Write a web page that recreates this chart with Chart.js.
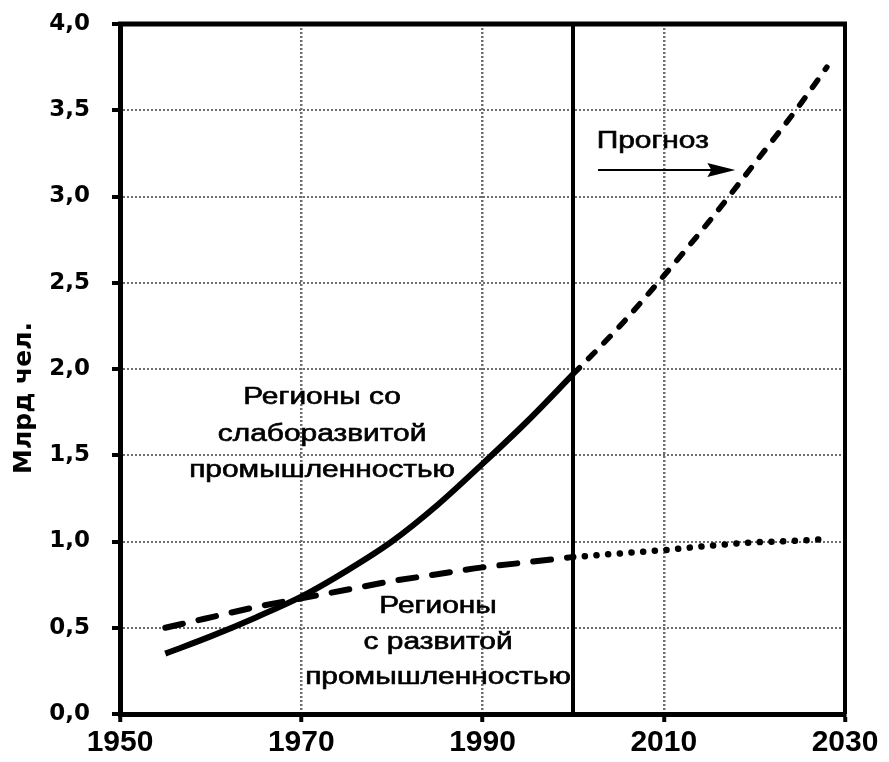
<!DOCTYPE html>
<html lang="ru">
<head>
    <meta charset="UTF-8">
    <title>Население регионов, млрд чел.</title>
    <script src="https://cdn.jsdelivr.net/npm/chart.js"></script>
    <style>
        html, body {
            margin: 0;
            padding: 0;
            background-color: #FFFFFF;
        }
        #myChart {
            display: block;
        }
    </style>
</head>
<body>
    <canvas id="myChart" width="889" height="762"></canvas>

    <script>
        // Данные (млрд чел.)
        var histYears = [1955, 1960, 1965, 1970, 1975, 1980, 1985, 1990, 1995, 2000];
        var developingHist = [0.35, 0.45, 0.56, 0.68, 0.83, 1.00, 1.21, 1.45, 1.70, 1.97];
        var developedHist = [0.50, 0.56, 0.62, 0.67, 0.72, 0.77, 0.81, 0.85, 0.88, 0.91];

        var forecastYears = [2000, 2005, 2010, 2015, 2020, 2025, 2028];
        var developingForecast = [1.97, 2.24, 2.54, 2.855, 3.19, 3.53, 3.75];
        var developedForecast = [0.91, 0.93, 0.95, 0.975, 0.995, 1.005, 1.015];

        var xTicks = [1950, 1970, 1990, 2010, 2030];
        var yTicks = [0, 0.5, 1, 1.5, 2, 2.5, 3, 3.5, 4];

        var labelDeveloping = ['Регионы со', 'слаборазвитой', 'промышленностью'];
        var labelDeveloped = ['Регионы', 'с развитой', 'промышленностью'];
        var forecastStart = 2000;

        function toPoints(xs, ys) {
            return xs.map(function(x, i) { return { x: x, y: ys[i] }; });
        }

        // текст, растянутый по горизонтали, как в оригинале
        function wideText(ctx, text, x, y, align) {
            ctx.save();
            ctx.translate(x, y);
            ctx.scale(1.3, 1);
            ctx.textAlign = align;
            ctx.textBaseline = 'middle';
            ctx.lineWidth = 0.6;
            ctx.fillText(text, 0, 0);
            ctx.strokeText(text, 0, 0);
            ctx.restore();
        }

        var decorations = {
            id: 'decorations',
            beforeDatasetsDraw: function(chart) {
                var ctx = chart.ctx;
                var area = chart.chartArea;
                var x = Math.round(chart.scales.x.getPixelForValue(forecastStart));
                ctx.save();
                ctx.strokeStyle = '#000';
                ctx.lineWidth = 4;
                ctx.beginPath();
                ctx.moveTo(x, area.top);
                ctx.lineTo(x, area.bottom);
                ctx.stroke();
                ctx.restore();
            },
            afterDraw: function(chart) {
                var ctx = chart.ctx;
                var area = chart.chartArea;
                var xs = chart.scales.x;
                var ys = chart.scales.y;

                ctx.save();
                ctx.strokeStyle = '#000';
                // верхняя и правая рамка
                ctx.lineWidth = 5;
                ctx.beginPath();
                ctx.moveTo(area.left - 2, area.top);
                ctx.lineTo(area.right + 2, area.top);
                ctx.stroke();
                ctx.lineWidth = 4;
                ctx.beginPath();
                ctx.moveTo(area.right, area.top);
                ctx.lineTo(area.right, area.bottom);
                ctx.stroke();

                ctx.fillStyle = '#000';
                ctx.font = '23px "Liberation Sans"';

                var cx = xs.getPixelForValue(1972.3);
                var cy = ys.getPixelForValue(1.832);
                labelDeveloping.forEach(function(line, i) {
                    wideText(ctx, line, cx, cy + i * 36.5, 'center');
                });

                cx = xs.getPixelForValue(1985.1);
                cy = ys.getPixelForValue(0.62);
                labelDeveloped.forEach(function(line, i) {
                    wideText(ctx, line, cx, cy + i * 35.5, 'center');
                });

                wideText(ctx, 'Прогноз', xs.getPixelForValue(2002.6), ys.getPixelForValue(3.32), 'left');

                // стрелка прогноза
                var ax1 = xs.getPixelForValue(2002.75);
                var ax2 = xs.getPixelForValue(2017.9);
                var ay = ys.getPixelForValue(3.154);
                ctx.lineWidth = 2;
                ctx.beginPath();
                ctx.moveTo(ax1, ay);
                ctx.lineTo(ax2 - 20, ay);
                ctx.stroke();
                ctx.beginPath();
                ctx.moveTo(ax2, ay);
                ctx.lineTo(ax2 - 28, ay - 7);
                ctx.lineTo(ax2 - 24, ay);
                ctx.lineTo(ax2 - 28, ay + 7);
                ctx.closePath();
                ctx.fill();

                // подпись оси Y
                ctx.font = 'bold 25px "DejaVu Sans"';
                ctx.translate(24, 398);
                ctx.rotate(-Math.PI / 2);
                ctx.textAlign = 'center';
                ctx.textBaseline = 'middle';
                ctx.fillText('Млрд чел.', 0, 0);
                ctx.restore();
            }
        };

        var gridColor = '#6e6e6e';

        var myChart = new Chart(document.getElementById('myChart').getContext('2d'), {
            type: 'line',
            data: {
                datasets: [
                    {
                        label: 'Регионы со слаборазвитой промышленностью',
                        data: toPoints(histYears, developingHist),
                        borderColor: '#000',
                        borderWidth: 6,
                        cubicInterpolationMode: 'monotone',
                        pointRadius: 0
                    },
                    {
                        label: 'Регионы со слаборазвитой промышленностью (прогноз)',
                        data: toPoints(forecastYears, developingForecast),
                        borderColor: '#000',
                        borderWidth: 5.5,
                        borderDash: [9, 13],
                        borderCapStyle: 'round',
                        cubicInterpolationMode: 'monotone',
                        pointRadius: 0
                    },
                    {
                        label: 'Регионы с развитой промышленностью',
                        data: toPoints(histYears, developedHist),
                        borderColor: '#000',
                        borderWidth: 6,
                        borderDash: [18, 16],
                        borderCapStyle: 'round',
                        cubicInterpolationMode: 'monotone',
                        pointRadius: 0
                    },
                    {
                        label: 'Регионы с развитой промышленностью (прогноз)',
                        data: toPoints(forecastYears, developedForecast),
                        borderColor: '#000',
                        borderWidth: 6.5,
                        borderDash: [0.1, 11.6],
                        borderCapStyle: 'round',
                        cubicInterpolationMode: 'monotone',
                        pointRadius: 0
                    }
                ]
            },
            options: {
                responsive: false,
                animation: false,
                layout: {
                    padding: { top: 24, right: 44, bottom: 0, left: 0 }
                },
                plugins: {
                    legend: { display: false },
                    tooltip: { enabled: false }
                },
                scales: {
                    x: {
                        type: 'linear',
                        min: 1950,
                        max: 2030,
                        afterBuildTicks: function(scale) {
                            scale.ticks = xTicks.map(function(v) { return { value: v }; });
                        },
                        afterFit: function(scale) {
                            scale.height = 48;
                        },
                        ticks: {
                            color: '#000',
                            padding: 3,
                            maxRotation: 0,
                            font: { family: '"Liberation Sans"', size: 30, weight: 'bold' },
                            callback: function(value) { return String(value); }
                        },
                        grid: {
                            color: gridColor,
                            lineWidth: 2.5,
                            tickColor: '#000',
                            tickLength: 8,
                            tickWidth: 4,
                            tickBorderDash: []
                        },
                        border: {
                            color: '#000',
                            width: 5,
                            dash: [2, 2]
                        }
                    },
                    y: {
                        min: 0,
                        max: 4,
                        afterBuildTicks: function(scale) {
                            scale.ticks = yTicks.map(function(v) { return { value: v }; });
                        },
                        afterFit: function(scale) {
                            scale.width = 120;
                            scale.paddingTop = 0;
                            scale.paddingBottom = 0;
                        },
                        ticks: {
                            color: '#000',
                            padding: 22,
                            font: { family: '"DejaVu Sans"', size: 23, weight: 'bold' },
                            callback: function(value) { return value.toFixed(1).replace('.', ','); }
                        },
                        grid: {
                            color: gridColor,
                            lineWidth: 2,
                            tickColor: '#000',
                            tickLength: 8,
                            tickWidth: 4,
                            tickBorderDash: []
                        },
                        border: {
                            color: '#000',
                            width: 5,
                            dash: [2, 2]
                        }
                    }
                }
            },
            plugins: [decorations]
        });
    </script>
</body>
</html>
